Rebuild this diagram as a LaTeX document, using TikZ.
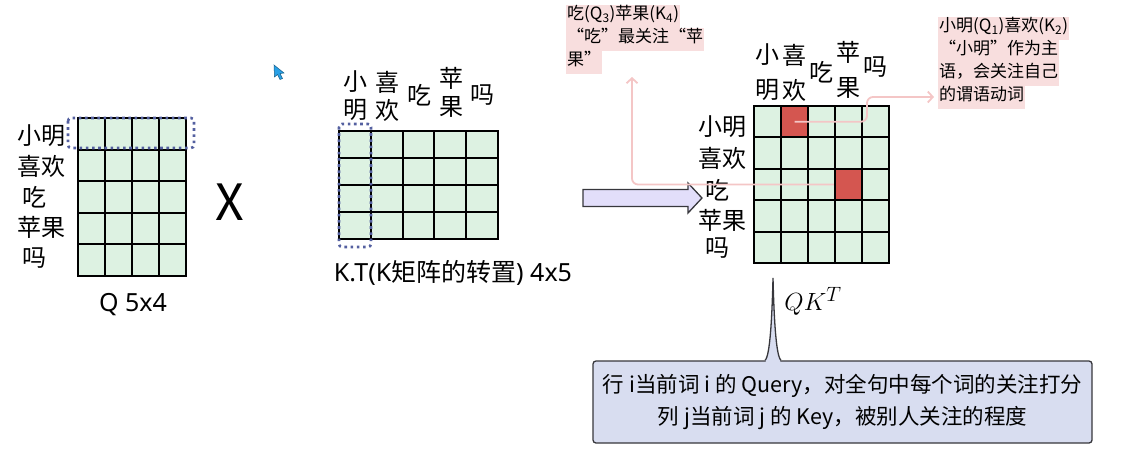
\documentclass[tikz,border=0pt]{standalone}
\usepackage{fontspec}
\setmainfont{Noto Sans CJK SC}
\newfontfamily\latinfont{Noto Sans}
\usepackage{tikz}
\usetikzlibrary{arrows.meta}
\definecolor{cellgreen}{RGB}{221,242,226}
\definecolor{hotred}{RGB}{212,86,80}
\definecolor{selblue}{RGB}{84,96,160}
\definecolor{notepink}{RGB}{248,222,222}
\definecolor{linkpink}{RGB}{244,198,198}
\definecolor{arrowfill}{RGB}{226,222,250}
\definecolor{callfill}{RGB}{216,221,240}
\definecolor{edgegray}{RGB}{55,55,60}
\definecolor{cursorblue}{RGB}{40,160,230}
\tikzstyle{cell}=[rectangle, draw, line width=2.1pt, fill=cellgreen, inner sep=0pt]
\tikzstyle{qcell}=[cell, minimum width=27pt, minimum height=31.6pt]
\tikzstyle{kcell}=[cell, minimum width=31.8pt, minimum height=27pt]
\tikzstyle{scell}=[cell, minimum width=27pt, minimum height=31.4pt]
\tikzstyle{hot}=[fill=hotred]
\tikzstyle{word}=[align=center, inner sep=0pt, font=\fontsize{24}{30.5}\selectfont]
\tikzstyle{kword}=[word, font=\fontsize{24}{28}\selectfont]
\tikzstyle{sword}=[word, font=\fontsize{24}{35}\selectfont]
\tikzstyle{caption}=[inner sep=0pt, font=\fontsize{25}{30}\selectfont]
\tikzstyle{sel}=[draw=selblue, line width=2.6pt, dash pattern=on 2.6pt off 3.6pt, rounded corners=3pt]
\tikzstyle{note}=[fill=notepink, anchor=west, inner xsep=1pt, inner ysep=0pt, text height=15pt, text depth=8pt, font=\fontsize{17}{23}\selectfont]
\tikzstyle{link}=[draw=linkpink, line width=1.8pt, rounded corners=6pt, -{Straight Barb[length=5pt,width=11pt]}]
\tikzstyle{bigarrow}=[draw=edgegray, line width=1.3pt, fill=arrowfill]
\tikzstyle{expl}=[draw=edgegray, line width=1.3pt, fill=callfill, rounded corners=3pt, align=center, minimum width=499pt, minimum height=82pt, inner sep=0pt, font=\fontsize{21.5}{32}\selectfont]

\begin{document}
\begin{tikzpicture}[x=1pt, y=-1pt]

		\useasboundingbox (0,0) rectangle (1134,464);

		\begin{scope}[shift={(78,118)}]
			\foreach \r in {1,...,5}{
				\foreach \c in {1,...,4}{
					\node[qcell] (q\r\c) at ({(\c-0.5)*27},{(\r-0.5)*31.6}) {};
				}
			}
		\end{scope}
		\draw[sel] (68,118) rectangle (194,148);
		\foreach \y/\x/\w [count=\i] in {136/41/小明, 166/41/喜欢, 197/35/吃, 227/41/苹果, 258/35/吗}{
			\node[word] (qw\i) at (\x,\y) {\w};
		}
		\node[caption] (qlbl) at (133,305) {\latinfont Q 5x4};

		\node[inner sep=0pt, font=\fontsize{50}{55}\selectfont] (times) at (230,202) {X};

		\begin{scope}[shift={(339,131)}]
			\foreach \r in {1,...,4}{
				\foreach \c in {1,...,5}{
					\node[kcell] (k\r\c) at ({(\c-0.5)*31.8},{(\r-0.5)*27}) {};
				}
			}
		\end{scope}
		\draw[sel] (339,124) rectangle (371,247);
		\foreach \x/\y/\w [count=\i] in {355/96/{小\\明}, 387/96/{喜\\欢}, 419/95/吃, 451/92/{苹\\果}, 482/95/吗}{
			\node[kword] (kw\i) at (\x,\y) {\w};
		}
		\node[caption] (klbl) at (453,273) {{\latinfont K.T(K}矩阵的转置{\latinfont ) 4x5}};

		\coordinate (mul) at (583,198);
		\draw[bigarrow] (mul) ++(0,-8.5) -- ++(105,0) -- ++(0,-6.5) -- ++(14,15) -- ++(-14,15) -- ++(0,-6.5) -- ++(-105,0) -- cycle;

		\begin{scope}[shift={(754,106)}]
			\foreach \r in {1,...,5}{
				\foreach \c in {1,...,5}{
					\node[scell] (s\r\c) at ({(\c-0.5)*27},{(\r-0.5)*31.4}) {};
				}
			}
		\end{scope}
		\node[scell, hot] (r1) at (s12) {};
		\node[scell, hot] (r2) at (s34) {};
		\foreach \y/\x/\w [count=\i] in {127/722/小明, 158/722/喜欢, 190/717.5/吃, 220/722/苹果, 248/717.5/吗}{
			\node[word] (sw\i) at (\x,\y) {\w};
		}
		\foreach \x/\y/\w [count=\i] in {767.5/72.5/{小\\明}, 794.5/72.5/{喜\\欢}, 821.5/72/吃, 848.5/69.5/{苹\\果}, 875.5/67/吗}{
			\node[sword] (cw\i) at (\x,\y) {\w};
		}
		\node[inner sep=0pt] (slbl) at (813,301) {\fontsize{24.88}{30}\selectfont$QK^T$};

		\node[note] (n1a) at (566,16) {吃(Q\textsubscript{3})苹果(K\textsubscript{4})};
		\node[note] (n1b) at (566,39) {“吃”最关注“苹};
		\node[note] (n1c) at (566,62) {果”};

		\node[note] (n2a) at (938,28) {小明(Q\textsubscript{1})喜欢(K\textsubscript{2})};
		\node[note] (n2b) at (938,51) {“小明”作为主};
		\node[note] (n2c) at (938,74) {语，会关注自己};
		\node[note] (n2d) at (938,97) {的谓语动词};

		\coordinate (tip1) at (632,77);
		\draw[link] (r2.west) -| (tip1);
		\draw[link] (r1.center) -| ([xshift=-71pt]n2d.west) -- ([xshift=-4pt]n2d.west);

		\node[expl] (expl) at (842.5,402) {行 i当前词 i 的 Query，对全句中每个词的关注打分\\列 j当前词 j 的 Key，被别人关注的程度};
		\coordinate (ptr) at (773,278);
		\coordinate (sb) at (ptr |- expl.north);
		\fill[callfill] ([xshift=-7pt,yshift=-1.4pt]sb) -- ([xshift=-8pt]sb) .. controls +(5,-4) and +(-1,40) .. (ptr) .. controls +(1,40) and +(-5,-4) .. ([xshift=8pt]sb) -- ([xshift=7pt,yshift=-1.4pt]sb) -- cycle;
		\draw[draw=edgegray, line width=1.3pt] ([xshift=-8pt]sb) .. controls +(5,-4) and +(-1,40) .. (ptr) .. controls +(1,40) and +(-5,-4) .. ([xshift=8pt]sb);

		\filldraw[fill=cursorblue, draw=cursorblue!60!black, line width=0.5pt] (274,65) -- (274.5,77) -- (277.5,74.5) -- (280,79.5) -- (282.5,78.5) -- (280,73.5) -- (284,73) -- cycle;

\end{tikzpicture}
\end{document}
